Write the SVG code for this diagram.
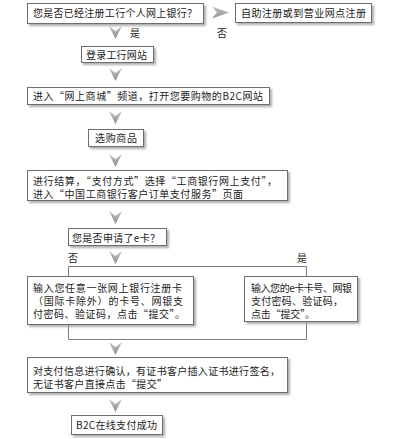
<svg xmlns="http://www.w3.org/2000/svg" xmlns:xlink="http://www.w3.org/1999/xlink" width="400" height="439" viewBox="0 0 400 439">
<style>
.box{fill:#fff;stroke:#6e6e6e;stroke-width:1;filter:url(#sh)}
.t{font-family:"Noto Sans CJK SC","Liberation Sans",sans-serif;font-size:10px;fill:#222}
.ln{fill:none;stroke:#7a7a7a;stroke-width:1}
.arr{fill:url(#ag)}
</style>
<defs>
<filter id="sh" x="-10%" y="-20%" width="130%" height="160%">
<feDropShadow dx="2" dy="2" stdDeviation="0.8" flood-color="#9a9a9a" flood-opacity="0.8"/>
</filter>
<linearGradient id="ag" x1="0" y1="0" x2="0" y2="1">
<stop offset="0" stop-color="#c4c4c4"/>
<stop offset="1" stop-color="#8e8e8e"/>
</linearGradient>
<path id="down" d="M-6.5,0 L0,5 L6.5,0 L0,13 Z"/>
</defs>
<g id="connectors">
<use xlink:href="#down" class="arr" x="115.5" y="26"/>
<use xlink:href="#down" class="arr" x="115.5" y="68"/>
<use xlink:href="#down" class="arr" x="115.5" y="111"/>
<use xlink:href="#down" class="arr" x="115.5" y="154"/>
<use xlink:href="#down" class="arr" x="115.5" y="211"/>
<use xlink:href="#down" class="arr" x="115.5" y="251"/>
<use xlink:href="#down" class="arr" x="115.5" y="342"/>
<use xlink:href="#down" class="arr" x="115.5" y="399"/>
<path class="arr" d="M212,6.5 L217,12.5 L212,18.5 L229,12.5 Z"/>
<path class="ln" d="M68.5,276 V266.5 H306.5 V276"/>
<path class="ln" d="M68.5,324 V339.5 H306.5 V321"/>
<text class="t" x="130" y="37">是</text>
<text class="t" x="217" y="37">否</text>
<text class="t" x="68" y="262">否</text>
<text class="t" x="297" y="262">是</text>
</g>
<g id="n1"><rect class="box" x="27.5" y="3.5" width="176" height="20"/><text class="t" x="33" y="17" textLength="164">您是否已经注册工行个人网上银行？</text></g>
<g id="n2"><rect class="box" x="235.5" y="3.5" width="136" height="19"/><text class="t" x="241" y="17" textLength="125">自助注册或到营业网点注册</text></g>
<g id="n3"><rect class="box" x="81.5" y="46.5" width="72" height="16"/><text class="t" x="86" y="58.5" textLength="61">登录工行网站</text></g>
<g id="n4"><rect class="box" x="27.5" y="87.5" width="242" height="17"/><text class="t" x="33" y="100" textLength="230">进入“网上商城”频道，打开您要购物的B2C网站</text></g>
<g id="n5"><rect class="box" x="88.5" y="129.5" width="55" height="17"/><text class="t" x="95" y="142" textLength="42">选购商品</text></g>
<g id="n6"><rect class="box" x="27.5" y="170.5" width="260" height="30"/><text class="t" x="33" y="185" textLength="244">进行结算，“支付方式”选择“工商银行网上支付”，</text><text class="t" x="33" y="198" textLength="210">进入“中国工商银行客户订单支付服务”页面</text></g>
<g id="n7"><rect class="box" x="68.5" y="228.5" width="98" height="17"/><text class="t" x="72" y="241.5" textLength="88">您是否申请了e卡？</text></g>
<g id="n8"><rect class="box" x="27.5" y="276.5" width="166" height="48"/><text class="t" x="33" y="292" textLength="149">输入您任意一张网上银行注册卡</text><text class="t" x="33" y="305" textLength="150">（国际卡除外）的卡号、网银支</text><text class="t" x="33" y="318" textLength="152">付密码、验证码，点击“提交”。</text></g>
<g id="n9"><rect class="box" x="244.5" y="276.5" width="113" height="45"/><text class="t" x="251" y="292" textLength="101">输入您的e卡卡号、网银</text><text class="t" x="251" y="305" textLength="92">支付密码、验证码，</text><text class="t" x="251" y="318" textLength="64">点击“提交”。</text></g>
<g id="n10"><rect class="box" x="27.5" y="357.5" width="260" height="35"/><text class="t" x="33" y="375" textLength="247">对支付信息进行确认，有证书客户插入证书进行签名，</text><text class="t" x="33" y="388" textLength="134">无证书客户直接点击“提交”</text></g>
<g id="n11"><rect class="box" x="71.5" y="415.5" width="91" height="19"/><text class="t" x="76" y="429" textLength="81">B2C在线支付成功</text></g>
</svg>
